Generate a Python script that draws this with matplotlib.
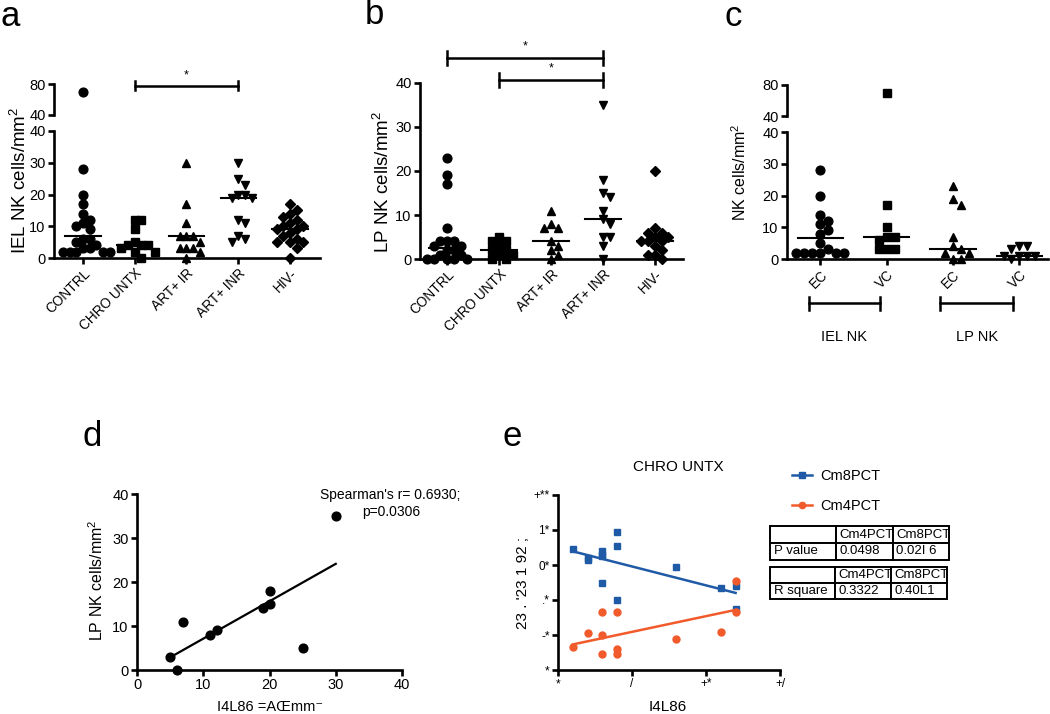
import matplotlib
matplotlib.use("Agg")

import matplotlib.pyplot as plt
from matplotlib.lines import Line2D
import numpy as np

plt.rcParams["font.family"] = ["Liberation Sans", "DejaVu Sans"]
plt.rcParams["mathtext.default"] = "regular"

W, H = 1050, 714

# ---- panel a: IEL NK cells/mm2 ----
groups = ["CONTRL", "CHRO UNTX", "ART+ IR", "ART+ INR", "HIV-"]
a_contrl = [70, 28, 20, 17, 14, 12, 11, 10, 9, 6, 6, 5, 4, 3, 3, 2, 2, 2, 2, 2]
a_chro = [12, 12, 9, 5, 4, 4, 4, 3, 2, 2, 0]
a_ir = [30, 17, 11, 7, 7, 7, 5, 3, 3, 3, 2, 0]
a_inr = [30, 25, 23, 20, 20, 19, 19, 12, 11, 7, 6, 5]
a_hiv = [17, 15, 14, 13, 12, 11, 10, 10, 9, 9, 8, 7, 6, 5, 5, 5, 3, 0]
a_medians = [7, 4, 7, 19, 9]

# ---- panel b: LP NK cells/mm2 ----
b_contrl = [23, 19, 17, 7, 4, 4, 4, 3, 3, 2, 2, 1, 1, 0, 0, 0, 0, 0]
b_chro = [5, 4, 4, 3, 2, 2, 1, 1, 0, 0]
b_ir = [11, 8, 7, 7, 4, 3, 2, 1, 0]
b_inr = [35, 18, 15, 14, 11, 9, 8, 5, 5, 3, 0]
b_hiv = [20, 7, 6, 6, 5, 5, 4, 4, 4, 3, 2, 1, 1, 0]
b_medians = [2.5, 2, 4, 9, 4]

# ---- panel c: NK cells/mm2 by controller type ----
c_labels = ["EC", "VC", "EC", "VC"]
c_iel_ec = [28, 20, 14, 12, 11, 9, 8, 5, 3, 2, 2, 2, 2, 2, 2]
c_iel_vc = [70, 17, 10, 7, 7, 6, 3, 3, 3]
c_lp_ec = [23, 19, 17, 7, 4, 3, 2, 2, 0, 0]
c_lp_vc = [4, 4, 3, 1, 1, 1, 1, 0]
c_medians = [6.5, 7, 3, 1]

# ---- panel d: correlation ----
d_x = [5, 6, 7, 11, 12, 19, 20, 20, 25, 30]
d_y = [3, 0, 11, 8, 9, 14, 18, 15, 5, 35]

# ---- panel e: CHRO UNTX ----
e_blue_x = [1, 2, 2, 3, 3, 3, 3, 4, 4, 4, 8, 11, 12, 12]
e_blue_y = [69, 63, 64, 68, 66, 65, 50, 79, 71, 40, 59, 47, 48, 35]
e_orange_x = [1, 2, 3, 3, 3, 4, 4, 4, 8, 11, 12, 12]
e_orange_y = [13, 21, 33, 20, 9, 33, 12, 9, 18, 22, 51, 33]
e_yticks = ["*", "-*", ".*", "0*", "1*", "+**"]
e_xticks = ["*", "/", "+*", "+/"]
tab_p = [["", "Cm4PCT", "Cm8PCT"], ["P value", "0.0498", "0.02I 6"]]
tab_r = [["", "Cm4PCT", "Cm8PCT"], ["R square", "0.3322", "0.40L1"]]

BLUE = "#1f5aa6"
ORANGE = "#f15a2b"
LW = 1.9
TICK = 10.5
MS = 6.3


def rect(l, t, r, b):
    return [l / W, 1 - b / H, (r - l) / W, (b - t) / H]


def style(ax, left=True, bottom=True):
    for s in ["top", "right"]:
        ax.spines[s].set_visible(False)
    ax.spines["left"].set_visible(left)
    ax.spines["bottom"].set_visible(bottom)
    for s in ["left", "bottom"]:
        ax.spines[s].set_linewidth(LW)
    ax.tick_params(width=LW, length=4, labelsize=TICK, direction="out", pad=2)
    ax.patch.set_visible(False)


def swarm(vals, dy, dx):
    # spread overlapping points sideways, GraphPad-style
    placed = []
    for v in vals:
        for k in [0, 1, -1, 2, -2, 3, -3, 4, -4]:
            x = k * dx
            ok = all(((x - px) / dx) ** 2 + ((v - py) / dy) ** 2 >= 0.8 for px, py in placed)
            if ok:
                break
        placed.append((x, v))
    return [p[0] for p in placed]


def draw_groups(ax_lo, ax_hi, data, markers, medians, dy, dx, split=40):
    for i, (vals, m) in enumerate(zip(data, markers)):
        lo = [v for v in vals if v <= split]
        hi = [v for v in vals if v > split]
        offs = swarm(lo, dy, dx)
        ms = MS - 1.4 if m == "D" else MS
        ax_lo.plot(np.array(offs) + i, lo, m, color="black", ms=ms, ls="none", clip_on=False)
        if hi and ax_hi is not None:
            ax_hi.plot([i] * len(hi), hi, m, color="black", ms=ms, ls="none", clip_on=False)
        ax_lo.plot([i - 0.34, i + 0.34], [medians[i], medians[i]], color="black", lw=1.5)


def sig_bar(ax, x0, x1, y, cap, star_y):
    ax.plot([x0, x1], [y, y], color="black", lw=1.8, clip_on=False)
    for x in (x0, x1):
        ax.plot([x, x], [y - cap, y + cap], color="black", lw=1.8, clip_on=False)
    ax.text((x0 + x1) / 2, star_y, "*", ha="center", va="center", fontsize=9)


fig = plt.figure(figsize=(10.5, 7.14), dpi=100)

# ---------- a ----------
axa = fig.add_axes(rect(54, 131, 320, 258))
axa2 = fig.add_axes(rect(54, 84, 320, 115))
for ax in (axa, axa2):
    style(ax)
    ax.set_xlim(-0.56, 4.58)
axa.set_ylim(0, 40)
axa.set_yticks([0, 10, 20, 30, 40])
axa.set_xticks(range(5))
axa.set_xticklabels(groups, rotation=45, ha="right", rotation_mode="anchor", fontsize=9.8)
axa2.set_ylim(40, 80)
axa2.set_yticks([40, 80])
axa2.spines["bottom"].set_visible(False)
axa2.set_xticks([])
draw_groups(axa, axa2, [a_contrl, a_chro, a_ir, a_inr, a_hiv], ["o", "s", "^", "v", "D"],
            a_medians, 2.5, 0.13)
sig_bar(axa2, 1, 3, 78, 6, 91)
fig.text(20 / W, 1 - 180 / H, "IEL NK cells/mm$^2$", rotation=90, ha="center", va="center", fontsize=13.5)
fig.text(0 / W, 1 - 17 / H, "a", fontsize=25, ha="left", va="center")

# ---------- b ----------
axb = fig.add_axes(rect(420, 83, 683, 259))
style(axb)
axb.set_xlim(-0.52, 4.54)
axb.set_ylim(0, 40)
axb.set_yticks([0, 10, 20, 30, 40])
axb.set_xticks(range(5))
axb.set_xticklabels(groups, rotation=45, ha="right", rotation_mode="anchor", fontsize=9.8)
draw_groups(axb, None, [b_contrl, b_chro, b_ir, b_inr, b_hiv], ["o", "s", "^", "v", "D"],
            b_medians, 1.9, 0.13)
sig_bar(axb, 0, 3, 45.7, 1.6, 48.3)
sig_bar(axb, 1, 3, 40.7, 1.6, 43.4)
fig.text(383 / W, 1 - 182 / H, "LP NK cells/mm$^2$", rotation=90, ha="center", va="center", fontsize=13.5)
fig.text(365 / W, 1 - 15 / H, "b", fontsize=25, ha="left", va="center")

# ---------- c ----------
axc = fig.add_axes(rect(787, 132, 1048, 259))
axc2 = fig.add_axes(rect(787, 85, 1048, 116))
for ax in (axc, axc2):
    style(ax)
    ax.set_xlim(-0.5, 3.43)
axc.set_ylim(0, 40)
axc.set_yticks([0, 10, 20, 30, 40])
axc.set_xticks(range(4))
axc.set_xticklabels(c_labels, rotation=45, ha="right", rotation_mode="anchor", fontsize=9.8)
axc2.set_ylim(40, 80)
axc2.set_yticks([40, 80])
axc2.spines["bottom"].set_visible(False)
axc2.set_xticks([])
draw_groups(axc, axc2, [c_iel_ec, c_iel_vc, c_lp_ec, c_lp_vc], ["o", "s", "^", "v"],
            c_medians, 2.5, 0.12)
for x0, x1, lab in [(-0.17, 0.9, "IEL NK"), (1.81, 2.9, "LP NK")]:
    axc.plot([x0, x1], [-14, -14], color="black", lw=1.8, clip_on=False)
    for x in (x0, x1):
        axc.plot([x, x], [-12, -16], color="black", lw=1.8, clip_on=False)
    axc.text((x0 + x1) / 2, -24.5, lab, ha="center", va="center", fontsize=10.5)
fig.text(740 / W, 1 - 172 / H, "NK cells/mm$^2$", rotation=90, ha="center", va="center", fontsize=11.5)
fig.text(724 / W, 1 - 16 / H, "c", fontsize=25, ha="left", va="center")

# ---------- d ----------
axd = fig.add_axes(rect(137, 494, 402, 670))
style(axd)
axd.set_xlim(0, 40)
axd.set_ylim(0, 40)
axd.set_xticks([0, 10, 20, 30, 40])
axd.set_yticks([0, 10, 20, 30, 40])
axd.tick_params(labelsize=10.5)
axd.plot(d_x, d_y, "o", color="black", ms=MS, clip_on=False)
k, b0 = np.polyfit(d_x, d_y, 1)
xs = np.array([min(d_x), max(d_x)])
axd.plot(xs, k * xs + b0, color="black", lw=1.6)
fig.text(320 / W, 1 - 495 / H, "Spearman's r= 0.6930;", fontsize=10, ha="left", va="center")
fig.text(362 / W, 1 - 512 / H, "p=0.0306", fontsize=10, ha="left", va="center")
fig.text(97 / W, 1 - 580 / H, "LP NK cells/mm$^2$", rotation=90, ha="center", va="center", fontsize=11.5)
fig.text(270 / W, 1 - 707 / H, "I4L86 =AŒmm\u207b", ha="center", va="center", fontsize=10.5)
fig.text(83 / W, 1 - 436 / H, "d", fontsize=25, ha="left", va="center")

# ---------- e ----------
axe = fig.add_axes(rect(558, 495, 780, 670))
style(axe)
axe.set_xlim(0, 15)
axe.set_ylim(0, 100)
axe.set_xticks([0, 5, 10, 15])
axe.set_xticklabels(e_xticks)
axe.set_yticks([0, 20, 40, 60, 80, 100])
axe.set_yticklabels(e_yticks)
axe.tick_params(labelsize=8.5)
axe.plot(e_blue_x, e_blue_y, "s", color=BLUE, ms=5, clip_on=False)
axe.plot(e_orange_x, e_orange_y, "o", color=ORANGE, ms=5, clip_on=False)
for xv, yv, c in [(e_blue_x, e_blue_y, BLUE), (e_orange_x, e_orange_y, ORANGE)]:
    k, b0 = np.polyfit(xv, yv, 1)
    xs = np.array([min(xv), max(xv)])
    axe.plot(xs, k * xs + b0, color=c, lw=1.8)
fig.text(678 / W, 1 - 467 / H, "CHRO UNTX", ha="center", va="center", fontsize=11)
fig.text(523 / W, 1 - 583 / H, "23 . '23 1 92 ;", rotation=90, ha="center", va="center", fontsize=11)
fig.text(668 / W, 1 - 707 / H, "I4L86", ha="center", va="center", fontsize=11)
fig.text(502 / W, 1 - 436 / H, "e", fontsize=25, ha="left", va="center")

handles = [
    Line2D([], [], color=BLUE, marker="s", ms=4.5, lw=1.8),
    Line2D([], [], color=ORANGE, marker="o", ms=4.5, lw=1.8),
]
fig.legend(handles, ["Cm8PCT", "Cm4PCT"], loc="upper left", bbox_to_anchor=(786 / W, 1 - 463 / H),
           frameon=False, fontsize=10.5, handlelength=1.4, labelspacing=1.1, handletextpad=0.55,
           borderaxespad=0)

for box, cells in [((770, 526, 949, 560), tab_p), ((770, 567, 947, 599), tab_r)]:
    tax = fig.add_axes(rect(*box))
    tax.axis("off")
    tbl = tax.table(cellText=cells, bbox=[0, 0, 1, 1], cellLoc="left",
                    colWidths=[0.37, 0.315, 0.315])
    tbl.auto_set_font_size(False)
    tbl.set_fontsize(9.5)
    for cell in tbl.get_celld().values():
        cell.set_linewidth(1.4)
        cell.PAD = 0.06

fig.savefig("out.png", dpi=100)
